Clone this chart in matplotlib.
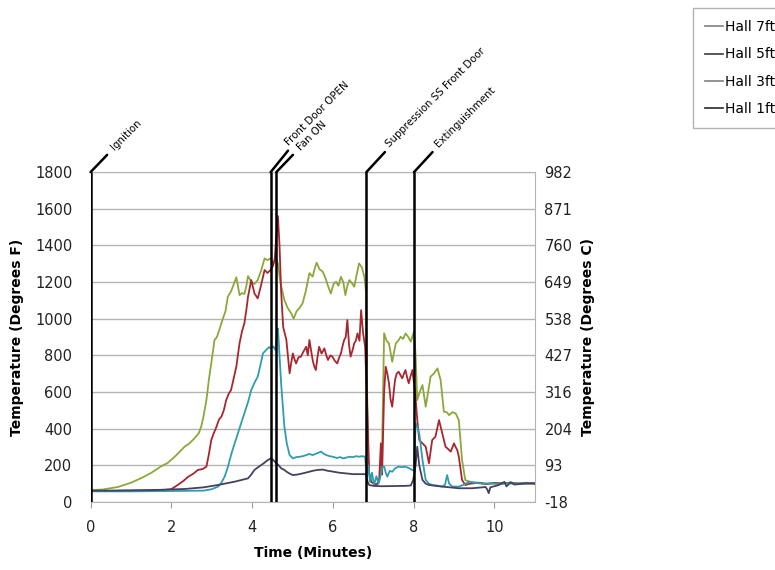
import numpy as np
import matplotlib
matplotlib.use("Agg")
import matplotlib.pyplot as plt
from matplotlib.lines import Line2D

# (time in minutes, temperature in degrees F)
hall_7ft = [(0, 65), (0.3, 68), (0.68, 82), (1.0, 105), (1.3, 135), (1.51, 160), (1.75, 195), (1.91, 213),
            (2.1, 250), (2.33, 302), (2.45, 320), (2.58, 349), (2.68, 375), (2.74, 411), (2.80, 470), (2.87, 556),
            (2.93, 666), (2.99, 757), (3.07, 884), (3.13, 900), (3.2, 947), (3.28, 1002), (3.34, 1040), (3.40, 1120),
            (3.48, 1150), (3.55, 1190), (3.61, 1226), (3.65, 1180), (3.69, 1129), (3.75, 1140), (3.81, 1135),
            (3.86, 1180), (3.90, 1233), (3.98, 1202), (4.06, 1190), (4.14, 1211), (4.22, 1260), (4.31, 1329),
            (4.38, 1320), (4.46, 1330), (4.52, 1300), (4.58, 1340), (4.64, 1300), (4.70, 1200), (4.80, 1102),
            (4.88, 1060), (4.97, 1029), (5.03, 1000), (5.10, 1040), (5.18, 1060), (5.25, 1084), (5.33, 1150),
            (5.42, 1249), (5.50, 1230), (5.56, 1280), (5.60, 1306), (5.67, 1270), (5.75, 1257), (5.82, 1220),
            (5.88, 1180), (5.95, 1138), (6.02, 1190), (6.08, 1202), (6.14, 1180), (6.20, 1229), (6.26, 1200),
            (6.31, 1129), (6.36, 1180), (6.41, 1211), (6.47, 1195), (6.53, 1175), (6.59, 1240), (6.65, 1302),
            (6.72, 1280), (6.78, 1229), (6.82, 1150), (6.85, 600), (6.88, 180), (6.95, 110), (7.05, 95),
            (7.15, 110), (7.22, 300), (7.27, 921), (7.33, 880), (7.39, 866), (7.47, 765), (7.56, 866), (7.62, 880),
            (7.68, 902), (7.74, 890), (7.80, 920), (7.87, 900), (7.93, 875), (8.01, 930), (8.05, 800), (8.09, 556),
            (8.15, 600), (8.22, 638), (8.30, 520), (8.36, 600), (8.42, 684), (8.50, 700), (8.59, 729), (8.67, 665),
            (8.75, 493), (8.82, 490), (8.88, 474), (8.96, 490), (9.04, 484), (9.12, 447), (9.20, 229), (9.28, 120),
            (9.40, 110), (9.6, 105), (9.8, 100), (10.0, 100), (10.2, 105), (10.4, 100), (10.6, 102), (10.8, 100),
            (11.0, 100)]

hall_5ft = [(0, 60), (1.0, 62), (1.8, 65), (2.0, 70), (2.16, 93), (2.3, 115), (2.42, 138), (2.55, 155),
            (2.66, 175), (2.78, 180), (2.87, 193), (2.93, 260), (2.99, 338), (3.06, 380), (3.12, 411), (3.18, 450),
            (3.24, 465), (3.30, 500), (3.36, 556), (3.42, 590), (3.48, 611), (3.55, 680), (3.61, 738), (3.65, 800),
            (3.69, 866), (3.75, 930), (3.81, 975), (3.86, 1050), (3.90, 1120), (3.98, 1211), (4.06, 1138),
            (4.14, 1111), (4.22, 1180), (4.31, 1266), (4.38, 1250), (4.46, 1266), (4.52, 1290), (4.56, 1320),
            (4.60, 1450), (4.64, 1560), (4.68, 1400), (4.72, 1150), (4.77, 956), (4.85, 884), (4.93, 702),
            (4.97, 760), (5.01, 811), (5.05, 780), (5.09, 756), (5.15, 790), (5.21, 793), (5.27, 820), (5.34, 847),
            (5.38, 800), (5.42, 884), (5.46, 830), (5.50, 775), (5.54, 740), (5.58, 720), (5.62, 790), (5.66, 847),
            (5.72, 810), (5.79, 838), (5.84, 800), (5.88, 775), (5.94, 800), (5.99, 793), (6.05, 770), (6.11, 756),
            (6.16, 790), (6.20, 811), (6.24, 850), (6.28, 884), (6.32, 900), (6.36, 993), (6.40, 860), (6.44, 793),
            (6.49, 830), (6.53, 866), (6.57, 880), (6.61, 920), (6.66, 880), (6.70, 1047), (6.75, 920), (6.80, 847),
            (6.86, 465), (6.90, 158), (6.95, 110), (7.02, 100), (7.10, 95), (7.15, 130), (7.19, 320), (7.22, 150),
            (7.27, 600), (7.31, 738), (7.35, 700), (7.39, 648), (7.43, 560), (7.47, 520), (7.54, 666), (7.58, 700),
            (7.63, 711), (7.68, 690), (7.72, 675), (7.76, 700), (7.80, 720), (7.84, 680), (7.88, 648), (7.93, 690),
            (7.97, 720), (8.04, 593), (8.09, 450), (8.14, 338), (8.22, 320), (8.30, 302), (8.38, 211), (8.46, 338),
            (8.54, 356), (8.63, 447), (8.71, 375), (8.79, 302), (8.85, 290), (8.92, 275), (9.0, 320), (9.04, 300),
            (9.08, 284), (9.12, 247), (9.2, 120), (9.28, 93), (9.4, 100), (9.6, 105), (9.8, 98), (10.0, 104),
            (10.2, 100), (10.4, 106), (10.6, 100), (10.8, 105), (11.0, 100)]

hall_3ft = [(0, 58), (1.0, 58), (2.0, 60), (2.8, 62), (3.0, 70), (3.16, 84), (3.24, 105), (3.32, 138),
            (3.40, 190), (3.49, 265), (3.57, 320), (3.65, 375), (3.73, 430), (3.81, 484), (3.90, 545), (3.98, 611),
            (4.06, 650), (4.14, 684), (4.20, 740), (4.27, 811), (4.35, 830), (4.42, 845), (4.46, 838), (4.52, 850),
            (4.58, 829), (4.62, 929), (4.64, 947), (4.68, 800), (4.72, 647), (4.80, 411), (4.86, 320), (4.93, 256),
            (5.01, 238), (5.10, 245), (5.18, 247), (5.26, 250), (5.34, 256), (5.42, 262), (5.50, 256), (5.60, 265),
            (5.71, 275), (5.78, 262), (5.84, 256), (5.92, 250), (6.00, 247), (6.10, 240), (6.18, 245), (6.25, 238),
            (6.33, 242), (6.41, 247), (6.50, 245), (6.58, 250), (6.65, 247), (6.72, 250), (6.80, 247), (6.84, 138),
            (6.88, 200), (6.92, 110), (6.97, 160), (7.02, 95), (7.08, 140), (7.13, 100), (7.19, 150), (7.23, 193),
            (7.27, 193), (7.31, 160), (7.35, 138), (7.41, 170), (7.47, 165), (7.55, 185), (7.63, 193), (7.72, 190),
            (7.80, 193), (7.88, 185), (7.97, 175), (8.01, 170), (8.05, 429), (8.09, 410), (8.14, 375), (8.22, 229),
            (8.30, 120), (8.38, 100), (8.46, 93), (8.58, 90), (8.71, 84), (8.78, 95), (8.83, 147), (8.88, 100),
            (8.96, 84), (9.12, 84), (9.25, 95), (9.37, 111), (9.5, 105), (9.7, 100), (9.94, 102), (10.1, 98),
            (10.35, 104), (10.6, 100), (10.8, 103), (11.0, 102)]

hall_1ft = [(0, 62), (0.5, 62), (1.5, 65), (2.33, 71), (2.8, 80), (3.16, 93), (3.57, 111), (3.90, 129),
            (3.98, 150), (4.06, 175), (4.15, 190), (4.23, 202), (4.31, 215), (4.39, 229), (4.47, 238), (4.53, 228),
            (4.60, 211), (4.66, 200), (4.72, 184), (4.80, 175), (4.85, 166), (4.93, 155), (5.01, 147), (5.13, 150),
            (5.25, 156), (5.38, 163), (5.50, 170), (5.62, 175), (5.75, 177), (5.88, 170), (6.00, 166), (6.15, 160),
            (6.33, 156), (6.50, 152), (6.65, 152), (6.82, 152), (6.86, 110), (6.90, 93), (7.0, 88), (7.2, 86),
            (7.5, 87), (7.8, 88), (7.93, 90), (7.99, 120), (8.05, 200), (8.09, 302), (8.14, 200), (8.22, 120),
            (8.30, 100), (8.38, 93), (8.55, 88), (8.71, 84), (8.9, 80), (9.12, 75), (9.45, 75), (9.7, 80),
            (9.78, 82), (9.82, 70), (9.86, 48), (9.9, 80), (10.1, 92), (10.25, 110), (10.3, 85), (10.4, 108),
            (10.5, 95), (10.7, 100), (11.0, 102)]

series_names = ["Hall 7ft", "Hall 5ft", "Hall 3ft", "Hall 1ft"]
series_data = [hall_7ft, hall_5ft, hall_3ft, hall_1ft]
series_colors = ["#8ca83a", "#a8262f", "#2e9db2", "#47405f"]
legend_colors = ["#8a8a8a", "#4a4a4a", "#8a8a8a", "#3a3a3a"]

event_times = [0.0, 4.46, 4.6, 6.83, 8.01]
event_labels = ["Ignition", "Front Door OPEN", "Fan ON", "Suppression SS Front Door", "Extinguishment"]
event_offsets = [(16, 17), (12, 20), (16, 17), (15, 19), (16, 19)]

f_ticks = [0, 200, 400, 600, 800, 1000, 1200, 1400, 1600, 1800]
x_ticks = [0, 2, 4, 6, 8, 10]

plt.rcParams["font.family"] = "DejaVu Sans"

fig = plt.figure(figsize=(7.75, 5.7), dpi=100)
ax = fig.add_axes([0.1168, 0.1193, 0.690 - 0.1168, 0.698 - 0.1193])

for data, color in zip(series_data, series_colors):
    arr = np.array(data)
    ax.plot(arr[:, 0], arr[:, 1], color=color, lw=1.3, zorder=3)

ax.set_xlim(0, 11)
ax.set_ylim(0, 1800)
ax.set_xticks(x_ticks)
ax.set_yticks(f_ticks)
ax.grid(axis="y", color="#b4b4b4", lw=1)
ax.set_axisbelow(True)
for s in ax.spines.values():
    s.set_color("#b4b4b4")
ax.tick_params(axis="y", length=0, pad=13, labelsize=10.5, colors="#222222")
ax.tick_params(axis="x", length=4, pad=9, labelsize=10.5, colors="#9a9a9a", labelcolor="#222222", direction="out")
ax.set_xlabel("Time (Minutes)", fontsize=10, fontweight="bold", labelpad=8)
ax.set_ylabel("Temperature (Degrees F)", fontsize=10, fontweight="bold", labelpad=8)

# right axis in Celsius
ax2 = ax.twinx()
ax2.set_ylim(ax.get_ylim())
ax2.set_yticks(f_ticks)
ax2.set_yticklabels([f"{(f - 32) * 5 / 9:.0f}" for f in f_ticks])
ax2.tick_params(axis="y", length=0, pad=7, labelsize=10.5, colors="#222222")
for s in ax2.spines.values():
    s.set_visible(False)
ax2.set_ylabel("Temperature (Degrees C)", fontsize=10, fontweight="bold", labelpad=6)

# event markers
for t, label, off in zip(event_times, event_labels, event_offsets):
    ax.vlines(t, 0, 1800, color="black", lw=1.8, zorder=4)
    ax.annotate(label, xy=(t, 1800), xytext=off, textcoords="offset points",
                rotation=45, rotation_mode="anchor", ha="left", va="center", fontsize=7.4,
                arrowprops=dict(arrowstyle="-", lw=1.8, color="black", shrinkA=0, shrinkB=0),
                annotation_clip=False)

handles = [Line2D([], [], color=c, lw=1.3) for c in legend_colors]
fig.legend(handles, series_names, loc="upper left", bbox_to_anchor=(0.894, 0.986), fontsize=10,
           frameon=True, fancybox=False, edgecolor="#a0a0a0", borderaxespad=0, handlelength=1.3,
           handletextpad=0.1, labelspacing=0.95, borderpad=0.88)

fig.savefig("out.png", dpi=100)
